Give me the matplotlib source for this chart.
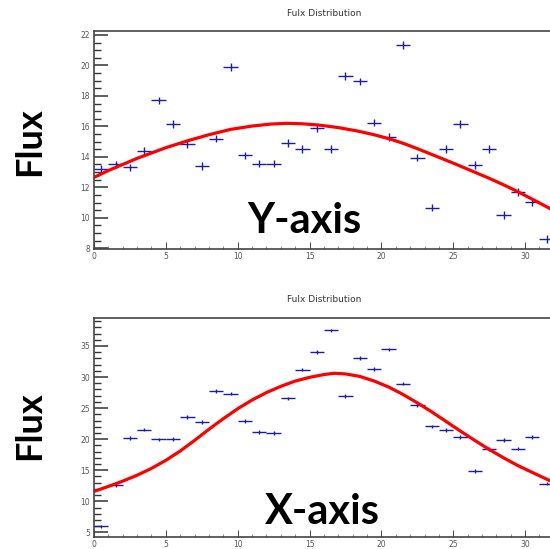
import matplotlib
matplotlib.use('Agg')
import matplotlib.pyplot as plt
from matplotlib.ticker import MultipleLocator
import numpy as np

# bin centres (width 1)
bins = np.arange(0.5, 32, 1.0)

# Y-axis panel data
flux_y = [13.2, 13.5, 13.3, 14.4, 17.7, 16.15, 14.85, 13.4, 15.2, 19.9, 14.1, 13.55,
          13.55, 14.9, 14.5, 15.9, 14.5, 19.3, 18.95, 16.25, 15.3, 21.35, 13.95, 10.67,
          14.5, 16.15, 13.47, 14.5, 10.2, 11.7, 11.05, 8.6]
err_y = 0.25
# fit curve
fit_y_x = [0, 1, 2, 3, 4, 5, 6.5, 8, 9.5, 11, 12.3, 13.4, 14.5, 15.7, 17, 18.3, 19.5, 20.6, 21.6,
           22.6, 23.6, 24.6, 25.6, 26.6, 27.6, 28.6, 29.6, 30.6, 31.7, 32.0]
fit_y = [12.65, 13.1, 13.5, 13.9, 14.25, 14.6, 15.05, 15.45, 15.8, 16.02, 16.15, 16.2, 16.17, 16.08,
         15.92, 15.7, 15.45, 15.17, 14.86, 14.5, 14.12, 13.74, 13.35, 12.95, 12.55, 12.12, 11.66,
         11.17, 10.62, 10.47]

# X-axis panel data
flux_x = [5.95, 12.55, 20.2, 21.55, 19.95, 20.05, 23.55, 22.8, 27.8, 27.35, 22.9, 21.1,
          20.95, 26.55, 31.2, 34.0, 37.5, 26.9, 33.05, 31.3, 34.45, 28.95, 25.45, 22.05,
          21.45, 20.4, 14.85, 18.4, 19.85, 18.5, 20.35, 12.85]
err_x = 0.3
fit_x_x = [0, 1, 2, 3, 4, 5, 6, 7, 8, 9, 10, 11, 12, 13, 14, 15, 16, 16.7, 17.5, 18.5, 19.5, 20.5,
           21.5, 22.5, 23.5, 24.5, 25.5, 26.5, 27.5, 28.5, 29.5, 30.5, 31.7, 32.0]
fit_x = [11.6, 12.4, 13.25, 14.2, 15.3, 16.6, 18.1, 19.8, 21.6, 23.3, 24.9, 26.3, 27.5, 28.5,
         29.35, 29.95, 30.4, 30.6, 30.5, 30.1, 29.35, 28.4, 27.2, 25.85, 24.4, 22.85, 21.3, 19.8,
         18.35, 17.0, 15.75, 14.65, 13.35, 13.05]

W, H = 550, 549
BLUE = '#1c1ca8'
NARROW = ['Liberation Sans Narrow', 'DejaVu Sans']
BIG = ['Lato', 'DejaVu Sans']


def px_box(left, top, right, bottom):
    # pixel box -> figure fraction [l, b, w, h]
    return [left / W, 1 - bottom / H, (right - left) / W, (bottom - top) / H]


def draw_panel(fig, box, values, err, fx, fy, ylim, ymajor, yminor, title_y, big_text, big_xy, flux_y_pos):
    ax = fig.add_axes(box)
    ax.errorbar(bins, values, xerr=0.5, yerr=err, fmt='none', ecolor=BLUE, elinewidth=1.0, capsize=0)
    ax.plot(fx, fy, color='#ff0000', lw=2.3, solid_capstyle='round', solid_joinstyle='round')
    ax.set_xlim(0, 32)
    ax.set_ylim(*ylim)

    ax.xaxis.set_major_locator(MultipleLocator(5))
    ax.xaxis.set_minor_locator(MultipleLocator(1))
    ax.yaxis.set_major_locator(MultipleLocator(ymajor))
    ax.yaxis.set_minor_locator(MultipleLocator(yminor))
    ax.tick_params(axis='y', which='major', direction='in', length=10, width=1.1, color='#333333',
                   labelsize=5.5, labelcolor='#555555', pad=3)
    ax.tick_params(axis='y', which='minor', direction='in', length=5, width=1.0, color='#333333')
    ax.tick_params(axis='x', which='major', direction='in', length=5, width=0.8, color='#555555',
                   labelsize=5.5, labelcolor='#555555', pad=2)
    ax.tick_params(axis='x', which='minor', direction='in', length=2.5, width=0.6, color='#777777')
    for lab in ax.get_xticklabels() + ax.get_yticklabels():
        lab.set_family(NARROW)
    for s in ['left', 'top', 'bottom']:
        ax.spines[s].set_color('#444444')
        ax.spines[s].set_linewidth(1.2)
    ax.spines['right'].set_visible(False)

    fig.text(324 / W, 1 - title_y / H, 'Fulx Distribution', ha='center', va='center',
             fontsize=6.5, family=NARROW, color='#333333')
    fig.text(big_xy[0] / W, 1 - big_xy[1] / H, big_text, ha='center', va='baseline',
             fontsize=30, fontweight='bold', family=BIG, color='black')
    fig.text(30 / W, 1 - flux_y_pos / H, 'Flux', ha='center', va='center', rotation=90,
             fontsize=26, fontweight='bold', family=BIG, color='black')
    return ax


def main():
    fig = plt.figure(figsize=(W / 100, H / 100), dpi=100)
    fig.patch.set_facecolor('white')

    # top panel: Y-axis
    draw_panel(fig, px_box(94, 31, 94 + 32 * 14.37, 249), flux_y, err_y, fit_y_x, fit_y,
               (7.95, 22.26), 2, 0.5, 14, 'Y-axis', (304, 233), 142)
    # bottom panel: X-axis
    draw_panel(fig, px_box(94, 318, 94 + 32 * 14.37, 537), flux_x, err_x, fit_x_x, fit_x,
               (4.26, 39.5), 5, 1, 299, 'X-axis', (322, 524), 426)

    fig.savefig('out.png', dpi=100)


if __name__ == '__main__':
    main()
